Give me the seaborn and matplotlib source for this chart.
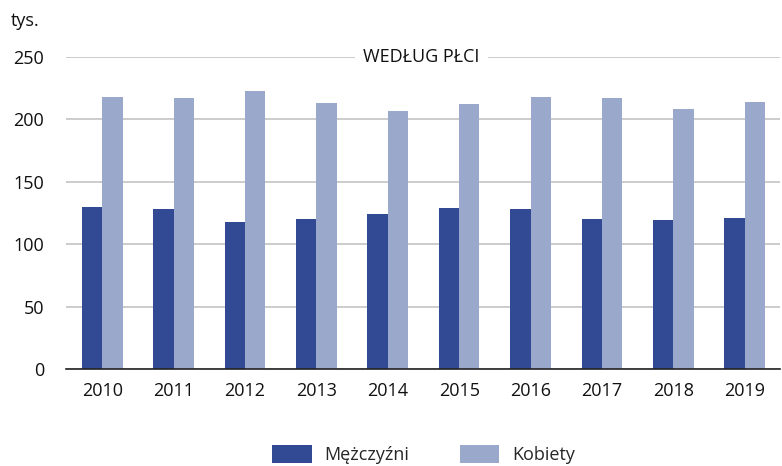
import pandas as pd
import seaborn as sns
import matplotlib.pyplot as plt
from matplotlib.ticker import FixedLocator

# Dane (tys.)
lata = ['2010', '2011', '2012', '2013', '2014', '2015', '2016', '2017', '2018', '2019']
mezczyzni = [130, 128, 118, 120, 124, 129, 128, 120, 119, 121]
kobiety = [218, 217, 223, 213, 207, 212, 218, 217, 208, 214]
serie = ['Mężczyźni', 'Kobiety']
kolory = ['#324a93', '#9aa8cb']

df = pd.DataFrame({
    'rok': lata * 2,
    'wartosc': mezczyzni + kobiety,
    'plec': [serie[0]] * len(lata) + [serie[1]] * len(lata),
})

sns.set_style('white')
plt.rcParams['font.family'] = ['Open Sans', 'DejaVu Sans']

fig = plt.figure(figsize=(7.82, 4.66), dpi=100)
ax = fig.add_axes([0.085, 0.208, 0.913, 0.670])

sns.barplot(data=df, x='rok', y='wartosc', hue='plec', palette=kolory,
            width=0.57, gap=0, saturation=1, linewidth=0, ax=ax, legend=True)

ax.set_ylim(0, 250)
ax.set_xlim(-0.5, len(lata) - 0.5)
ax.set_yticks([0, 50, 100, 150, 200, 250])
ax.yaxis.grid(True, color='#c8c8c8', linewidth=1.3)
ax.set_axisbelow(True)
ax.set_xlabel('')
ax.set_ylabel('')

for s in ['top', 'right', 'left']:
    ax.spines[s].set_visible(False)
ax.spines['bottom'].set_color('#222222')
ax.spines['bottom'].set_linewidth(1.2)

ax.tick_params(axis='y', length=0, labelsize=13, pad=16, colors='#111111')
ax.tick_params(axis='x', which='major', length=0, labelsize=13, pad=9, colors='#111111')
ax.xaxis.set_minor_locator(FixedLocator([i - 0.5 for i in range(len(lata) + 1)]))
ax.tick_params(axis='x', which='minor', length=6, width=1.2, color='#222222', direction='out')

ax.text(4.47, 250, 'WEDŁUG PŁCI', ha='center', va='center', fontsize=13,
        color='#111111', bbox=dict(facecolor='white', edgecolor='none', pad=6))
fig.text(0.014, 0.955, 'tys.', fontsize=13, color='#111111', va='center')

h, l = ax.get_legend_handles_labels()
ax.legend(h, l, loc='center', bbox_to_anchor=(0.5, -0.275), ncol=2, frameon=False,
          fontsize=13, handlelength=2.2, handleheight=1.15, columnspacing=2.8, handletextpad=0.7)

plt.savefig('out.png', dpi=100)
